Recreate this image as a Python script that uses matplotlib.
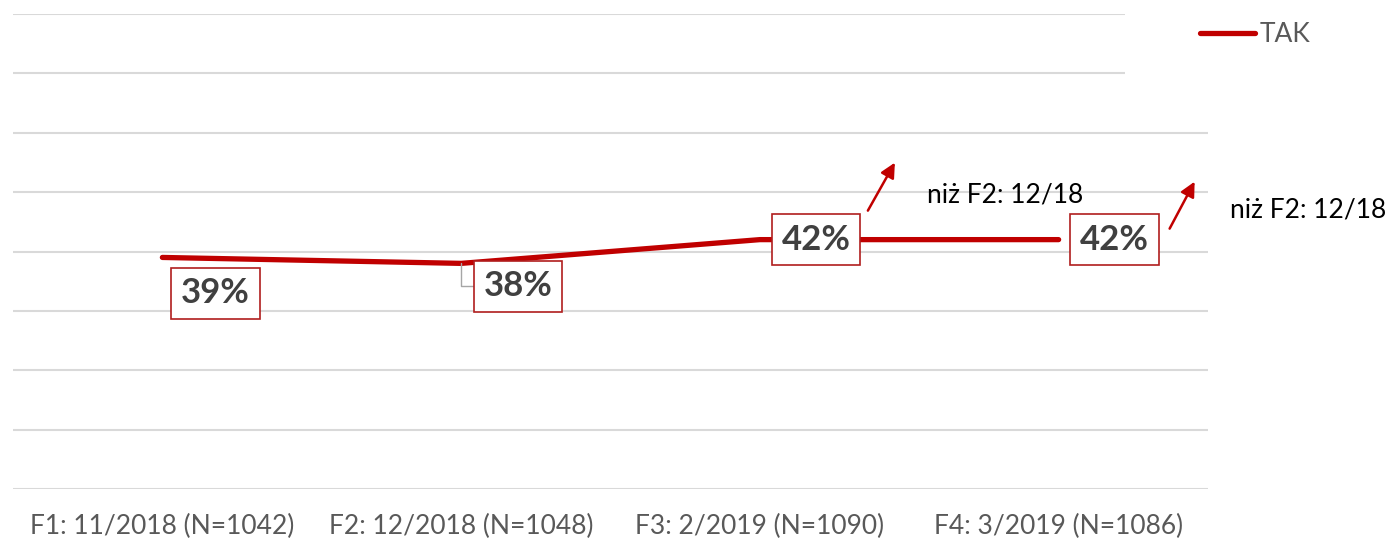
import matplotlib
matplotlib.use('Agg')
import matplotlib.pyplot as plt
import matplotlib.transforms as mtransforms

plt.rcParams['font.family'] = ['Lato', 'DejaVu Sans']

# dane
categories = ['F1: 11/2018 (N=1042)', 'F2: 12/2018 (N=1048)',
              'F3: 2/2019 (N=1090)', 'F4: 3/2019 (N=1086)']
tak = [39, 38, 42, 42]
labels = ['39%', '38%', '42%', '42%']
notes = ['niż F2: 12/18', 'niż F2: 12/18']  # dla F3 i F4
note_idx = [2, 3]

red = '#C00000'
grid_col = '#D9D9D9'

fig = plt.figure(figsize=(13.88, 5.4), dpi=100)
ax = fig.add_axes([13 / 1388, 51 / 540, 1195 / 1388, 475 / 540])
x = list(range(len(categories)))
ax.set_xlim(-0.5, len(categories) - 0.5)
ax.set_ylim(0, 80)

# siatka (dwie gorne linie krotsze - miejsce na legende)
for yv in range(0, 90, 10):
    xmax = 3.222 if yv >= 70 else 3.5
    ax.hlines(yv, -0.5, xmax, color=grid_col, lw=1.5, zorder=1)

ax.plot(x, tak, color=red, lw=3.8, solid_capstyle='round',
        solid_joinstyle='round', label='TAK', zorder=3)


def off(dx, dy):
    return ax.transData + mtransforms.ScaledTranslation(dx / 100, dy / 100, fig.dpi_scale_trans)


label_off = [(53, -36), (57, -23), (56, 0), (56, 0)]
box = dict(boxstyle='square,pad=0.28', fc='white', ec='#B01E1E', lw=1.2)
for i, (v, lab) in enumerate(zip(tak, labels)):
    ap = None
    if i == 1:
        ap = dict(arrowstyle='-', color='#A6A6A6', lw=1,
                  connectionstyle='angle,angleA=0,angleB=90,rad=0',
                  shrinkA=0, shrinkB=0)
    ax.annotate(lab, xy=(i, v), xytext=label_off[i], textcoords='offset pixels',
                ha='center', va='center', fontsize=25, fontweight='bold',
                color='#404040', bbox=box, arrowprops=ap, zorder=5)

# strzalki i komentarze
arrow_off = [((135, 77), (108, 29), (167, 45)),
             ((136, 58), (111, 11), (171, 30))]
for k, i in enumerate(note_idx):
    end, start, txt = arrow_off[k]
    ax.annotate('', xy=(i, tak[i]), xycoords=off(*end),
                xytext=(start[0] - end[0], start[1] - end[1]), textcoords='offset pixels',
                arrowprops=dict(arrowstyle='-|>', color=red, lw=1.8,
                                mutation_scale=22, shrinkA=0, shrinkB=0),
                annotation_clip=False)
    ax.annotate(notes[k], xy=(i, tak[i]), xytext=txt, textcoords='offset pixels',
                ha='left', va='center', fontsize=19, color='black',
                annotation_clip=False)

ax.set_xticks(x)
ax.set_xticklabels(categories, fontsize=19, color='#595959')
ax.tick_params(axis='x', length=0, pad=18)
ax.set_yticks([])
for s in ax.spines.values():
    s.set_visible(False)

leg = ax.legend(loc='center left', bbox_to_anchor=(1200 / 1388, 1 - 35 / 540),
                bbox_transform=fig.transFigure, frameon=False, fontsize=19,
                handlelength=2.1, handletextpad=0.15, borderpad=0, borderaxespad=0)
for t in leg.get_texts():
    t.set_color('#595959')

fig.savefig('out.png', dpi=100)
